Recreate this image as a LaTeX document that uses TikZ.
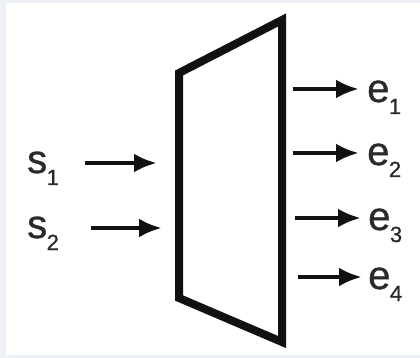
\documentclass[tikz,border=0pt]{standalone}
\usepackage{fontspec}
\setmainfont{Liberation Sans}[FakeBold=0.8]
\usetikzlibrary{arrows.meta}
\definecolor{MuxFrame}{HTML}{EDF1F5}
\definecolor{MuxInk}{HTML}{111111}
\definecolor{MuxText}{HTML}{2A2A2A}
\newcommand{\chanlbl}[2]{#1\kern-0.5pt\raisebox{-12pt}{\fontsize{22}{22}\selectfont #2}}
\tikzset{
  mux body/.style={
    draw=MuxInk,
    fill=white,
    line width=8pt,
    line join=miter
  },
  mux label/.style={
    inner sep=0pt,
    text=MuxText,
    anchor=base west,
    font=\fontsize{40}{42}\selectfont
  },
  mux flow/.style={-{Latex[length=23pt,width=19pt]},draw=MuxInk,line width=4.5pt}
}
\begin{document}
\begin{tikzpicture}[x=1pt,y=-1pt]
  \useasboundingbox (0,0) rectangle (420,358);
  \fill[MuxFrame] (0,0) rectangle (420,358);
  \fill[white] (6,3) rectangle (420,355);

  % the block
  \coordinate (tl) at (179,73);
  \coordinate (tr) at (282,20);
  \coordinate (br) at (282,342);
  \coordinate (bl) at (179,298);
  \draw[mux body] (tl) -- (tr) -- (br) -- (bl) -- cycle;

  % inputs
  \node[mux label] (s1) at (27,173) {\chanlbl{s}{1}};
  \node[mux label] (s2) at (27,238) {\chanlbl{s}{2}};
  \coordinate (s1to) at (157,163);
  \coordinate (s2to) at (162,228);
  \draw[mux flow,shorten <=26pt] (s1.east |- s1to) -- (s1to);
  \draw[mux flow,shorten <=32pt] (s2.east |- s2to) -- (s2to);

  % outputs
  \node[mux label] (e1) at (367,102) {\chanlbl{e}{1}};
  \node[mux label] (e2) at (367,165) {\chanlbl{e}{2}};
  \node[mux label] (e3) at (368,230) {\chanlbl{e}{3}};
  \node[mux label] (e4) at (368,289) {\chanlbl{e}{4}};
  \coordinate (e1from) at (293,89);
  \coordinate (e2from) at (293,153);
  \coordinate (e3from) at (295,218);
  \coordinate (e4from) at (298,277);
  \draw[mux flow,shorten >=8pt] (e1from) -- (e1.west |- e1from);
  \draw[mux flow,shorten >=8pt] (e2from) -- (e2.west |- e2from);
  \draw[mux flow,shorten >=7pt] (e3from) -- (e3.west |- e3from);
  \draw[mux flow,shorten >=6pt] (e4from) -- (e4.west |- e4from);
\end{tikzpicture}
\end{document}
